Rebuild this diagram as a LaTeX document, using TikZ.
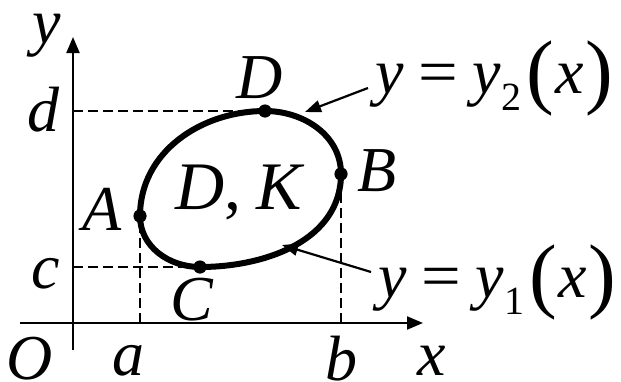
\documentclass[tikz,border=0pt]{standalone}
\usepackage{fontspec}
\setmainfont{Liberation Serif}
\usetikzlibrary{arrows.meta}
\newcommand{\bigpar}[1]{\raisebox{-2.5pt}{\upshape\scalebox{1.3}{#1}}}
\newcommand{\curvelab}[1]{y\hspace{0.24em}{\upshape\scalebox{1.1}[1]{=}}\hspace{0.22em}y\raisebox{-8.5pt}{\fontsize{20}{20}\selectfont\upshape #1}\hspace{0.08em}\bigpar{(}\hspace{0.02em}x\hspace{0.03em}\bigpar{)}}

\begin{document}
\begin{tikzpicture}[x=0.5pt,y=0.5pt,font=\fontsize{32}{38}\selectfont\itshape,
  axis/.style={line width=1.1pt,-{Triangle[length=8pt,width=6.5pt]}},
  guide/.style={line width=0.75pt,dash pattern=on 5pt off 2.5pt},
  pointer/.style={line width=1.1pt,-{Triangle[length=8pt,width=6pt]}}]
\useasboundingbox (-73,-58) rectangle (548,323);
\coordinate (O) at (0,0);
\coordinate (xs) at (-53,0); \coordinate (xe) at (350,0);
\coordinate (ys) at (0,-27); \coordinate (ye) at (0,286);
\draw[axis] (xs) -- (xe);
\draw[axis] (ys) -- (ye);
% points where the boundary turns
\coordinate (A) at (67,107);
\coordinate (B) at (268,149);
\coordinate (C) at (127,56);
\coordinate (D) at (192,212);
\draw[guide] (A |- O) -- (A);
\draw[guide] (B |- O) -- (B);
\draw[guide] (O |- C) -- (C);
\draw[guide] (O |- D) -- (D);
\draw[line width=3pt] (A) to[out=90,in=180] (D) to[out=0,in=90] (B)
  to[out=-90,in=0] (C) to[out=180,in=-90] cycle;
\foreach \p in {A,B,C,D} { \fill (\p) circle (3.3pt); }
\node (labA) at (29,114) {A};
\node (labB) at (304,152) {B};
\node (labC) at (119,23) {C};
\node (labD) at (187,245) {D};
\node[font=\fontsize{34}{40}\selectfont\itshape,anchor=base] (region) at (166,114) {D{\upshape,}\hspace{0.22em}K};
\node (laby) at (-26,287) {y};
\node (labx) at (359,-38) {x};
\node (labO) at (-43,-36) {O};
\node (laba) at (55,-38) {a};
\node (labb) at (268,-36) {b};
\node (labc) at (-27,49) {c};
\node (labd) at (-30,213) {d};
% the two halves of the boundary
\node[anchor=base west] (ytwo) at (295,230) {\curvelab{2}};
\node[anchor=base west] (yone) at (298,26) {\curvelab{1}};
\coordinate (tiptwo) at (232,211);
\coordinate (tipone) at (209,78);
\draw[pointer] ([yshift=-5pt]ytwo.west) -- (tiptwo);
\draw[pointer] ([yshift=5pt]yone.west) -- (tipone);
\end{tikzpicture}
\end{document}
